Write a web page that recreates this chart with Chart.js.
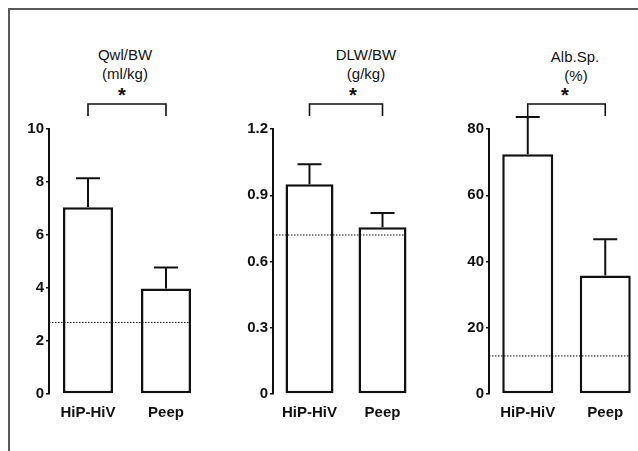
<!DOCTYPE html>
<html><head><meta charset="utf-8">
<script src="https://cdn.jsdelivr.net/npm/chart.js@4.4.1/dist/chart.umd.min.js"></script>
<style>
html,body{margin:0;padding:0}
body{width:638px;height:451px;background:#fff;position:relative;overflow:hidden;font-family:"Liberation Sans",Arial,Helvetica,sans-serif}
#frame{position:absolute;left:8px;top:8px;width:660px;height:470px;border-top:2px solid #5a5a5a;border-left:2px solid #5a5a5a}
.c{position:absolute;top:0}
.t{position:absolute;font-size:15px;color:#111;line-height:19px;transform:translate(-50%,-50%);white-space:nowrap}
.s{position:absolute;font-size:20px;font-weight:bold;color:#111;line-height:20px;transform:translate(-50%,-50%)}
</style></head><body>
<div id="frame"></div>
<div class="t" style="left:125px;top:54px">Qwl/BW</div>
<div class="t" style="left:125px;top:73px">(ml/kg)</div>
<div class="s" style="left:122px;top:95px">*</div>
<div class="t" style="left:366px;top:54px">DLW/BW</div>
<div class="t" style="left:366px;top:73px">(g/kg)</div>
<div class="s" style="left:353px;top:95px">*</div>
<div class="t" style="left:575px;top:56px">Alb.Sp.</div>
<div class="t" style="left:576px;top:75px">(%)</div>
<div class="s" style="left:565px;top:95px">*</div>
<canvas id="c0" class="c" style="left:9px" width="196" height="451"></canvas>
<canvas id="c1" class="c" style="left:233px" width="186" height="451"></canvas>
<canvas id="c2" class="c" style="left:449px" width="195" height="451"></canvas>
<script>
// ---- data ----
const categories = ['HiP-HiV', 'Peep'];
const qwlMean = [7.05, 3.98];
const qwlSD   = [1.09, 0.79];
const dlwMean = [0.95, 0.755];
const dlwSD   = [0.09, 0.065];
const albMean = [72.4, 35.8];
const albSD   = [11.2, 10.9];
const normalValues = [2.7, 0.72, 11.5];
const yMaxes  = [10, 1.2, 80];
const ySteps  = [2, 0.3, 20];
const qwlTicks = ['0', '2', '4', '6', '8', '10'];
const dlwTicks = ['0', '0.3', '0.6', '0.9', '1.2'];
const albTicks = ['0', '20', '40', '60', '80'];

const panels = [
  {id: 'c0', mean: qwlMean, sd: qwlSD, ticks: qwlTicks, bar: 50 / 78},
  {id: 'c1', mean: dlwMean, sd: dlwSD, ticks: dlwTicks, bar: 48 / 73},
  {id: 'c2', mean: albMean, sd: albSD, ticks: albTicks, bar: 51 / 77.5}
];

const INK = '#111';
const FONT = '"Liberation Sans", Arial, Helvetica, sans-serif';

const extrasPlugin = {
  id: 'extras',
  afterDatasetsDraw(chart, args, opts) {
    const ctx = chart.ctx;
    const y = chart.scales.y;
    const meta = chart.getDatasetMeta(0);
    const ds = chart.data.datasets[0];
    ctx.save();
    ctx.strokeStyle = INK;
    // error bars
    ctx.lineWidth = 2;
    meta.data.forEach((bar, i) => {
      const top = y.getPixelForValue(ds.data[i] + opts.sd[i]);
      ctx.beginPath();
      ctx.moveTo(bar.x, bar.y);
      ctx.lineTo(bar.x, top);
      ctx.moveTo(bar.x - 12, top);
      ctx.lineTo(bar.x + 12, top);
      ctx.stroke();
    });
    // dotted normal line
    const last = meta.data[meta.data.length - 1];
    const ny = y.getPixelForValue(opts.normal);
    ctx.lineWidth = 1;
    ctx.setLineDash([1.5, 1.5]);
    ctx.beginPath();
    ctx.moveTo(chart.chartArea.left, ny);
    ctx.lineTo(last.x + last.width / 2 - 2, ny);
    ctx.stroke();
    ctx.setLineDash([]);
    // significance bracket
    const first = meta.data[0];
    const by = chart.chartArea.top - 25;
    ctx.lineWidth = 1.6;
    ctx.beginPath();
    ctx.moveTo(first.x, by + 12);
    ctx.lineTo(first.x, by);
    ctx.lineTo(last.x, by);
    ctx.lineTo(last.x, by + 12);
    ctx.stroke();
    ctx.restore();
  }
};

panels.forEach((p, k) => {
  new Chart(document.getElementById(p.id), {
    type: 'bar',
    data: {
      labels: categories,
      datasets: [{
        data: p.mean,
        backgroundColor: '#fff',
        borderColor: INK,
        borderWidth: 2.5,
        borderSkipped: false,
        barPercentage: p.bar,
        categoryPercentage: 1
      }]
    },
    options: {
      responsive: false,
      animation: false,
      devicePixelRatio: 1,
      layout: {padding: {top: 129, bottom: 12, left: 0, right: 0}},
      plugins: {
        legend: {display: false},
        tooltip: {enabled: false},
        extras: {sd: p.sd, normal: normalValues[k]}
      },
      scales: {
        x: {
          grid: {display: false},
          border: {display: false},
          ticks: {color: INK, padding: 2, font: {family: FONT, size: 15, weight: 'bold'}},
          afterFit(s) { s.height = 45; }
        },
        y: {
          min: 0, max: yMaxes[k],
          ticks: {
            stepSize: ySteps[k],
            color: INK,
            padding: 2,
            font: {family: FONT, size: 15, weight: 'bold'},
            callback: (v, i) => p.ticks[i]
          },
          grid: {drawOnChartArea: false, tickLength: 3, color: INK, lineWidth: 1.5},
          border: {display: true, color: INK, width: 2},
          afterFit(s) { s.width = 40; }
        }
      }
    },
    plugins: [extrasPlugin]
  });
});
</script>
</body></html>
